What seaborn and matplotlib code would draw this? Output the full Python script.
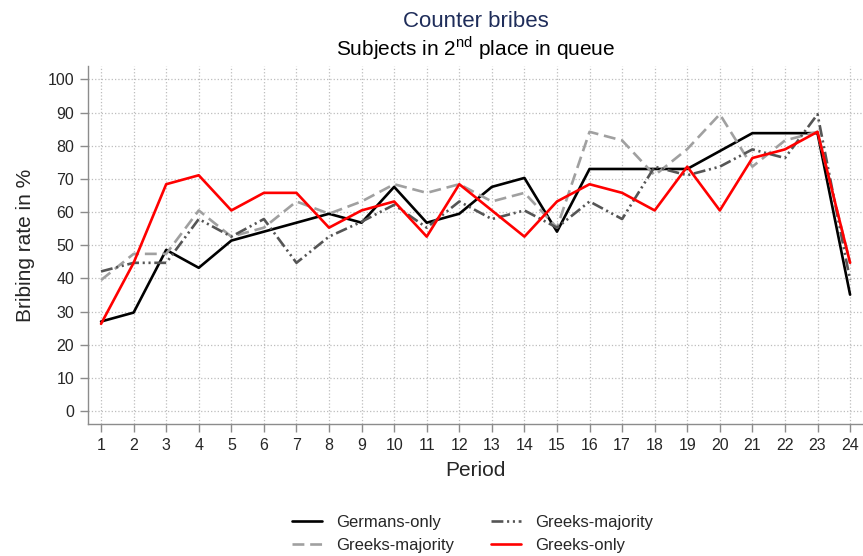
import seaborn as sns
import pandas as pd
import matplotlib.pyplot as plt

periods = list(range(1, 25))

germans_only = [27.0, 29.7, 48.6, 43.2, 51.4, 54.1, 56.8, 59.5, 56.8, 67.6, 56.8, 59.5,
                67.6, 70.3, 54.1, 73.0, 73.0, 73.0, 73.0, 78.4, 83.8, 83.8, 83.8, 35.1]
greeks_majority_a = [39.5, 47.4, 47.4, 60.5, 52.6, 55.3, 63.2, 59.5, 63.2, 68.4, 65.8, 68.4,
                     63.2, 65.8, 55.3, 84.2, 81.6, 71.1, 79.0, 89.5, 73.7, 81.6, 84.2, 44.7]
greeks_majority_b = [42.1, 44.7, 44.7, 57.9, 52.6, 57.9, 44.7, 52.6, 57.1, 62.2, 55.3, 63.2,
                     57.9, 60.5, 55.3, 63.2, 57.9, 73.7, 71.1, 73.7, 78.9, 76.3, 89.5, 39.5]
greeks_only = [26.3, 44.7, 68.4, 71.1, 60.5, 65.8, 65.8, 55.3, 60.5, 63.2, 52.6, 68.4,
               60.5, 52.6, 63.2, 68.4, 65.8, 60.5, 73.7, 60.5, 76.3, 78.9, 84.2, 44.7]

df = pd.DataFrame({
    'period': periods,
    'germans_only': germans_only,
    'greeks_majority_a': greeks_majority_a,
    'greeks_majority_b': greeks_majority_b,
    'greeks_only': greeks_only,
})

sns.set_theme(style='white')
plt.rcParams['font.family'] = ['Liberation Sans', 'DejaVu Sans']

fig = plt.figure(figsize=(8.63, 5.56), dpi=100)
ax = fig.add_axes([0.102, 0.2374, 0.897, 0.6436])

lw = 1.9
sns.lineplot(data=df, x='period', y='germans_only', ax=ax, color='black', lw=lw,
             label='Germans-only')
sns.lineplot(data=df, x='period', y='greeks_majority_a', ax=ax, color='#a0a0a0', lw=lw,
             label='Greeks-majority')
sns.lineplot(data=df, x='period', y='greeks_majority_b', ax=ax, color='#555555', lw=lw,
             label='Greeks-majority')
sns.lineplot(data=df, x='period', y='greeks_only', ax=ax, color='red', lw=lw,
             label='Greeks-only')
ax.lines[1].set_dashes([4.5, 2.2])
ax.lines[2].set_dashes([4.5, 1.4, 0.8, 1.4, 0.8, 1.4])

ax.set_xlim(0.6, 24.37)
ax.set_ylim(-3.9, 104)
ax.set_xticks(periods)
ax.set_yticks(range(0, 101, 10))
ax.grid(True, ls=':', color='#bdbdbd', lw=0.9)
for side in ['top', 'right']:
    ax.spines[side].set_visible(False)
for side in ['left', 'bottom']:
    ax.spines[side].set_color('#8c8c8c')
    ax.spines[side].set_linewidth(1.0)
ax.tick_params(axis='both', direction='out', length=6, width=1, color='#8c8c8c',
               labelsize=11.5, bottom=True, left=True, pad=4)
ax.set_xlabel('Period', fontsize=15, labelpad=6)
ax.set_ylabel('Bribing rate in %', fontsize=15, labelpad=9)

# titles are centred over the plot area, not the whole figure
fig.text(0.551, 0.962, 'Counter bribes', ha='center', va='center', fontsize=16, color='#1f2d5a')
fig.text(0.551, 0.914, r'Subjects in 2$^{\mathregular{nd}}$ place in queue', ha='center',
         va='center', fontsize=15, color='black')

handles, labels = ax.get_legend_handles_labels()
ax.get_legend().remove()
fig.legend(handles, labels, ncol=2, loc='center', bbox_to_anchor=(0.548, 0.04),
           frameon=False, fontsize=12, handlelength=1.8, columnspacing=2.2,
           labelspacing=0.5, handletextpad=0.85)

fig.savefig('out.png', dpi=100)
